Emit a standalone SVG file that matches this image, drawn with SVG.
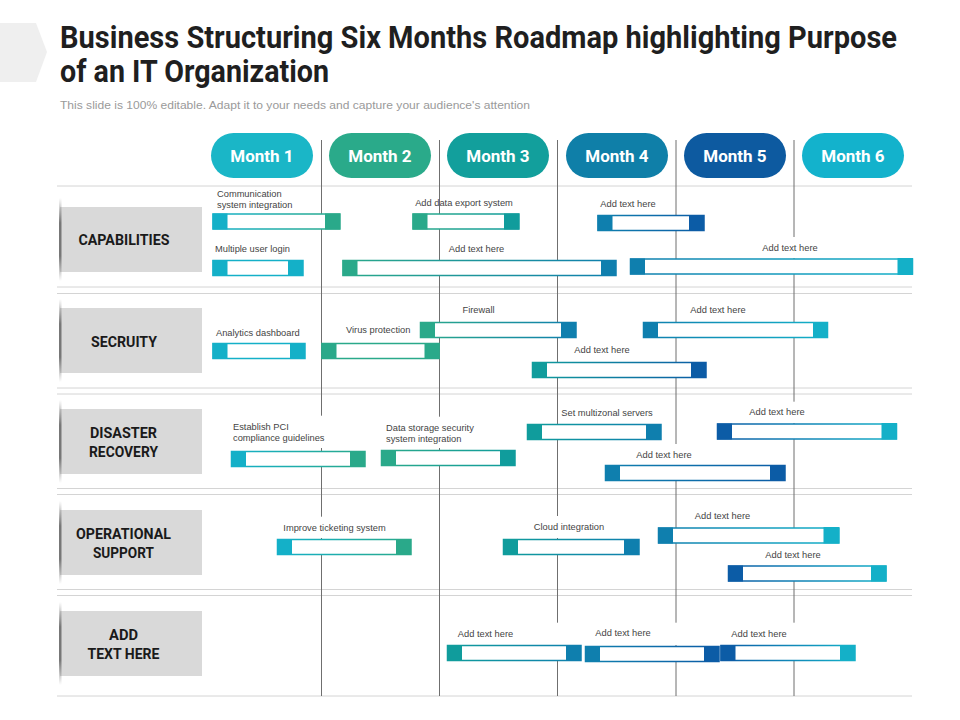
<svg xmlns="http://www.w3.org/2000/svg" width="960" height="720" viewBox="0 0 960 720">
<style>
.title{font-family:"Liberation Sans Narrow","Roboto","Liberation Sans",sans-serif;font-weight:bold;font-size:32px;fill:#1f1f1f}
.sub{font-family:"Liberation Sans",Arial,sans-serif;font-size:11px;fill:#9a9a9a}
.month{font-family:"Liberation Sans Narrow","Roboto","Liberation Sans",sans-serif;font-weight:bold;font-size:17px;fill:#fff;text-anchor:middle}
.cat{font-family:"Liberation Sans Narrow","Roboto","Liberation Sans",sans-serif;font-weight:bold;font-size:15px;fill:#1a1a1a;text-anchor:middle}
.lbl{font-family:"Liberation Sans",Arial,sans-serif;font-size:9.3px;fill:#444}
.mid{text-anchor:middle}
.hl{stroke:#d4d4d4;stroke-width:1;fill:none}
.vl{stroke:#6f6f6f;stroke-width:1;fill:none}
.box{fill:#d9d9d9}
.frame{fill:#fff;stroke-width:1.5}
.C{fill:#14b0c8}.G{fill:#2aa98a}.T{fill:#109c9c}.B{fill:#0f7fae}.D{fill:#0c5ca6}
</style>
<defs>
<linearGradient id="edge" x1="0" y1="0" x2="0" y2="1"><stop offset="0" stop-color="#888" stop-opacity="0"/><stop offset="0.3" stop-color="#777"/><stop offset="0.7" stop-color="#777"/><stop offset="1" stop-color="#888" stop-opacity="0"/></linearGradient>
<linearGradient id="gCG" x1="0" x2="1"><stop offset="0" stop-color="#14b0c8"/><stop offset="1" stop-color="#2aa98a"/></linearGradient>
<linearGradient id="gGT" x1="0" x2="1"><stop offset="0" stop-color="#2aa98a"/><stop offset="1" stop-color="#109c9c"/></linearGradient>
<linearGradient id="gBD" x1="0" x2="1"><stop offset="0" stop-color="#0f7fae"/><stop offset="1" stop-color="#0c5ca6"/></linearGradient>
<linearGradient id="gCC" x1="0" x2="1"><stop offset="0" stop-color="#14b0c8"/><stop offset="1" stop-color="#14b0c8"/></linearGradient>
<linearGradient id="gGB" x1="0" x2="1"><stop offset="0" stop-color="#2aa98a"/><stop offset="1" stop-color="#0f7fae"/></linearGradient>
<linearGradient id="gBC" x1="0" x2="1"><stop offset="0" stop-color="#0f7fae"/><stop offset="1" stop-color="#14b0c8"/></linearGradient>
<linearGradient id="gGG" x1="0" x2="1"><stop offset="0" stop-color="#2aa98a"/><stop offset="1" stop-color="#2aa98a"/></linearGradient>
<linearGradient id="gTD" x1="0" x2="1"><stop offset="0" stop-color="#109c9c"/><stop offset="1" stop-color="#0c5ca6"/></linearGradient>
<linearGradient id="gTB" x1="0" x2="1"><stop offset="0" stop-color="#109c9c"/><stop offset="1" stop-color="#0f7fae"/></linearGradient>
<linearGradient id="gDC" x1="0" x2="1"><stop offset="0" stop-color="#0c5ca6"/><stop offset="1" stop-color="#14b0c8"/></linearGradient>
</defs>
<rect width="960" height="720" fill="#fff"/>

<g id="header">
<path d="M0 23 H36 L47 52 L36 82 H0 Z" fill="#efefef"/>
<text class="title" x="60" y="48" textLength="837" lengthAdjust="spacingAndGlyphs">Business Structuring Six Months Roadmap highlighting Purpose</text>
<text class="title" x="60" y="82" textLength="269" lengthAdjust="spacingAndGlyphs">of an IT Organization</text>
<text class="sub" x="60" y="109" textLength="470" lengthAdjust="spacingAndGlyphs">This slide is 100% editable. Adapt it to your needs and capture your audience's attention</text>
</g>

<g id="grid">
<path class="hl" d="M57 186 H912 M57 287 H912 M57 293.5 H912 M57 388 H912 M57 394 H912 M57 488.5 H912 M57 494.5 H912 M57 589.5 H912 M57 595.5 H912 M57 696 H912"/>
<path class="vl" d="M321.5 140 V415.7 M321.5 448 V516.7 M321.5 538 V696 M439.5 140 V416.7 M439.5 448 V696 M557.5 140 V516 M557.5 538 V622.7 M557.5 645 V696 M676 140 V444 M676 465 V622.7 M676 645 V696 M794 140 V237 M794 258 V401.7 M794 423 V543 M794 566 V622.7 M794 645 V696"/>
</g>

<g id="months">
<g id="month-1"><rect x="211" y="133" width="102" height="45" rx="22.5" fill="#1ab6c7"/><text class="month" x="262" y="162">Month 1</text></g>
<g id="month-2"><rect x="329" y="133" width="102" height="45" rx="22.5" fill="#2aaa8a"/><text class="month" x="380" y="162">Month 2</text></g>
<g id="month-3"><rect x="447" y="133" width="102" height="45" rx="22.5" fill="#129f9c"/><text class="month" x="498" y="162">Month 3</text></g>
<g id="month-4"><rect x="566" y="133" width="102" height="45" rx="22.5" fill="#0f7fa8"/><text class="month" x="617" y="162">Month 4</text></g>
<g id="month-5"><rect x="684" y="133" width="102" height="45" rx="22.5" fill="#0d5aa0"/><text class="month" x="735" y="162">Month 5</text></g>
<g id="month-6"><rect x="802" y="133" width="102" height="45" rx="22.5" fill="#13b2cc"/><text class="month" x="853" y="162">Month 6</text></g>
</g>

<g id="categories">
<g id="cat-capabilities"><rect class="box" x="60" y="207" width="142" height="65"/><rect x="59" y="198" width="2.5" height="83" fill="url(#edge)"/><text class="cat" x="124" y="245" textLength="91" lengthAdjust="spacingAndGlyphs">CAPABILITIES</text></g>
<g id="cat-security"><rect class="box" x="60" y="308" width="142" height="65"/><rect x="59" y="299" width="2.5" height="83" fill="url(#edge)"/><text class="cat" x="124" y="346.5" textLength="66" lengthAdjust="spacingAndGlyphs">SECRUITY</text></g>
<g id="cat-disaster"><rect class="box" x="60" y="409" width="142" height="65"/><rect x="59" y="400" width="2.5" height="83" fill="url(#edge)"/><text class="cat" x="123.5" y="438" textLength="67" lengthAdjust="spacingAndGlyphs">DISASTER</text><text class="cat" x="123.5" y="457" textLength="69" lengthAdjust="spacingAndGlyphs">RECOVERY</text></g>
<g id="cat-operational"><rect class="box" x="60" y="510" width="142" height="65"/><rect x="59" y="501" width="2.5" height="83" fill="url(#edge)"/><text class="cat" x="123.5" y="539" textLength="95" lengthAdjust="spacingAndGlyphs">OPERATIONAL</text><text class="cat" x="123.5" y="557.5" textLength="61" lengthAdjust="spacingAndGlyphs">SUPPORT</text></g>
<g id="cat-add"><rect class="box" x="60" y="611" width="142" height="65"/><rect x="59" y="602" width="2.5" height="83" fill="url(#edge)"/><text class="cat" x="123.5" y="640" textLength="29" lengthAdjust="spacingAndGlyphs">ADD</text><text class="cat" x="123.5" y="658.5" textLength="72" lengthAdjust="spacingAndGlyphs">TEXT HERE</text></g>
</g>

<g id="bars">
<g id="bar-1"><rect class="frame" x="213" y="214" width="127" height="15" stroke="url(#gCG)"/><rect class="C" x="212.5" y="213.5" width="15" height="16"/><rect class="G" x="325" y="213.5" width="15" height="16"/><text class="lbl" x="217" y="197">Communication</text><text class="lbl" x="217" y="208">system integration</text></g>
<g id="bar-2"><rect class="frame" x="413" y="214" width="106" height="15" stroke="url(#gGT)"/><rect class="G" x="412.5" y="213.5" width="15" height="16"/><rect class="T" x="504" y="213.5" width="15" height="16"/><text class="lbl mid" x="464" y="205.5">Add data export system</text></g>
<g id="bar-3"><rect class="frame" x="598" y="215.5" width="106" height="15" stroke="url(#gBD)"/><rect class="B" x="597.5" y="215" width="15" height="16"/><rect class="D" x="689" y="215" width="15" height="16"/><text class="lbl mid" x="628" y="206.5">Add text here</text></g>
<g id="bar-4"><rect class="frame" x="213" y="260.5" width="90" height="15" stroke="url(#gCC)"/><rect class="C" x="212.5" y="260" width="15" height="16"/><rect class="C" x="288" y="260" width="15" height="16"/><text class="lbl" x="215" y="251.5">Multiple  user login</text></g>
<g id="bar-5"><rect class="frame" x="343" y="260.5" width="273" height="15" stroke="url(#gGB)"/><rect class="G" x="342.5" y="260" width="15" height="16"/><rect class="B" x="601" y="260" width="15" height="16"/><text class="lbl mid" x="476.5" y="251.5">Add text here</text></g>
<g id="bar-6"><rect class="frame" x="630.5" y="259" width="282" height="15" stroke="url(#gBC)"/><rect class="B" x="630" y="258.5" width="15" height="16"/><rect class="C" x="897.5" y="258" width="15.5" height="17"/><text class="lbl mid" x="790" y="250.5">Add text here</text></g>

<g id="bar-7"><rect class="frame" x="213" y="343.5" width="92" height="15" stroke="url(#gCC)"/><rect class="C" x="212.5" y="343" width="15" height="16"/><rect class="C" x="290" y="343" width="15" height="16"/><text class="lbl" x="216" y="335.5">Analytics dashboard</text></g>
<g id="bar-8"><rect class="frame" x="322" y="343.5" width="117" height="15" stroke="url(#gGG)"/><rect class="G" x="321.5" y="343" width="15" height="16"/><rect class="G" x="424.5" y="343" width="15" height="16"/><text class="lbl" x="346" y="332.5">Virus  protection</text></g>
<g id="bar-9"><rect class="frame" x="420.5" y="322.5" width="155.5" height="15" stroke="url(#gGB)"/><rect class="G" x="420" y="322" width="15" height="16"/><rect class="B" x="561" y="322" width="15" height="16"/><text class="lbl mid" x="478.5" y="313">Firewall</text></g>
<g id="bar-10"><rect class="frame" x="643.5" y="322.5" width="184" height="15" stroke="url(#gBC)"/><rect class="B" x="643" y="322" width="15" height="16"/><rect class="C" x="813" y="322" width="15" height="16"/><text class="lbl mid" x="718" y="313">Add text here</text></g>
<g id="bar-11"><rect class="frame" x="532.5" y="362.5" width="173.5" height="15" stroke="url(#gTD)"/><rect class="T" x="532" y="362" width="15" height="16"/><rect class="D" x="691" y="362" width="15" height="16"/><text class="lbl mid" x="602" y="353">Add text here</text></g>

<g id="bar-12"><rect class="frame" x="231.5" y="451.5" width="133.5" height="15" stroke="url(#gCG)"/><rect class="C" x="231" y="451" width="15" height="16"/><rect class="G" x="350" y="451" width="15" height="16"/><text class="lbl" x="233" y="430">Establish PCI</text><text class="lbl" x="233" y="441">compliance guidelines</text></g>
<g id="bar-13"><rect class="frame" x="381.5" y="450.5" width="133.5" height="15" stroke="url(#gGT)"/><rect class="G" x="381" y="450" width="15" height="16"/><rect class="T" x="500" y="450" width="15" height="16"/><text class="lbl" x="386" y="431">Data storage security</text><text class="lbl" x="386" y="441.5">system integration</text></g>
<g id="bar-14"><rect class="frame" x="527.5" y="424.5" width="133.5" height="15" stroke="url(#gTB)"/><rect class="T" x="527" y="424" width="15" height="16"/><rect class="B" x="646" y="424" width="15" height="16"/><text class="lbl mid" x="607" y="415.5">Set multizonal servers</text></g>
<g id="bar-15"><rect class="frame" x="717.5" y="424" width="179" height="15" stroke="url(#gDC)"/><rect class="D" x="717" y="423.5" width="15" height="16"/><rect class="C" x="881.5" y="423" width="15.5" height="16.5"/><text class="lbl mid" x="777" y="415">Add text here</text></g>
<g id="bar-16"><rect class="frame" x="605.5" y="465.5" width="179.5" height="15" stroke="url(#gBD)"/><rect class="B" x="605" y="465" width="15" height="16"/><rect class="D" x="770" y="465" width="15" height="16"/><text class="lbl mid" x="664" y="457.5">Add text here</text></g>

<g id="bar-17"><rect class="frame" x="277.5" y="539.5" width="133.5" height="15" stroke="url(#gCG)"/><rect class="C" x="277" y="539" width="15" height="16"/><rect class="G" x="396" y="539" width="15" height="16"/><text class="lbl mid" x="334.5" y="530.5">Improve ticketing system</text></g>
<g id="bar-18"><rect class="frame" x="503.5" y="539.5" width="135.5" height="15" stroke="url(#gTB)"/><rect class="T" x="503" y="539" width="15" height="16"/><rect class="B" x="624" y="539" width="15" height="16"/><text class="lbl mid" x="569" y="529.5">Cloud integration</text></g>
<g id="bar-19"><rect class="frame" x="658.5" y="528" width="180.5" height="15" stroke="url(#gBC)"/><rect class="B" x="658" y="527.5" width="15" height="16"/><rect class="C" x="823.5" y="527" width="15.5" height="16.5"/><text class="lbl mid" x="722.5" y="519">Add text here</text></g>
<g id="bar-20"><rect class="frame" x="728.5" y="566" width="157.5" height="15" stroke="url(#gDC)"/><rect class="D" x="728" y="565.5" width="15" height="16"/><rect class="C" x="871" y="565.5" width="15.5" height="16"/><text class="lbl mid" x="793" y="557.5">Add text here</text></g>

<g id="bar-21"><rect class="frame" x="447.5" y="645.5" width="133.5" height="15" stroke="url(#gTB)"/><rect class="T" x="447" y="645" width="15" height="16"/><rect class="B" x="566" y="645" width="15" height="16"/><text class="lbl mid" x="485.5" y="636.5">Add text here</text></g>
<g id="bar-22"><rect class="frame" x="585.5" y="646.5" width="133.5" height="15" stroke="url(#gBD)"/><rect class="B" x="585" y="646" width="15" height="16"/><rect class="D" x="704" y="646" width="15" height="16"/><text class="lbl mid" x="623" y="635.5">Add text here</text></g>
<g id="bar-23"><rect class="frame" x="721" y="645.5" width="134" height="15" stroke="url(#gDC)"/><rect class="D" x="720.5" y="645" width="15" height="16"/><rect class="C" x="840" y="645" width="15" height="16"/><text class="lbl mid" x="759" y="636.5">Add text here</text></g>
</g>
</svg>
